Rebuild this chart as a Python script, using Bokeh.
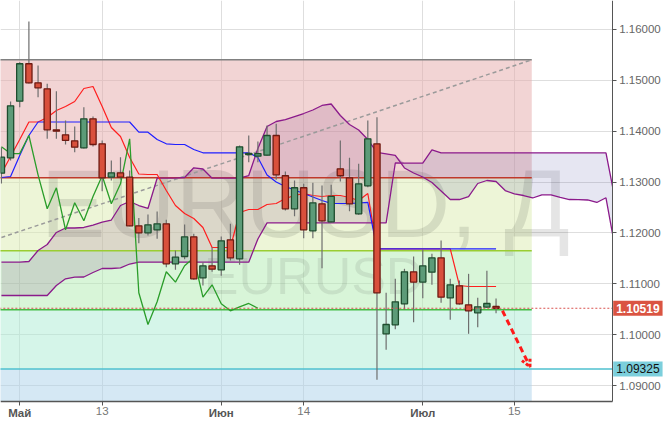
import numpy as np
from bokeh.plotting import figure
from bokeh.models import Range1d, FixedTicker, PrintfTickFormatter, Label, Arrow, OpenHead
from bokeh.core.properties import value
from bokeh.embed import file_html
from bokeh.resources import INLINE

# ---------------- data ----------------
dates = ["2016-04-28", "2016-04-29",
         "2016-05-02", "2016-05-03", "2016-05-04", "2016-05-05", "2016-05-06",
         "2016-05-09", "2016-05-10", "2016-05-11", "2016-05-12", "2016-05-13",
         "2016-05-16", "2016-05-17", "2016-05-18", "2016-05-19", "2016-05-20",
         "2016-05-23", "2016-05-24", "2016-05-25", "2016-05-26", "2016-05-27",
         "2016-05-30", "2016-05-31", "2016-06-01", "2016-06-02", "2016-06-03",
         "2016-06-06", "2016-06-07", "2016-06-08", "2016-06-09", "2016-06-10",
         "2016-06-13", "2016-06-14", "2016-06-15", "2016-06-16", "2016-06-17",
         "2016-06-20", "2016-06-21", "2016-06-22", "2016-06-23", "2016-06-24",
         "2016-06-27", "2016-06-28", "2016-06-29", "2016-06-30", "2016-07-01",
         "2016-07-04", "2016-07-05", "2016-07-06", "2016-07-07", "2016-07-08",
         "2016-07-11", "2016-07-12", "2016-07-13"]
future_dates = ["2016-07-14", "2016-07-15"]

opens = [1.13175, 1.13477, 1.14590, 1.15326, 1.14952, 1.14834, 1.14028, 1.13930, 1.13812, 1.13674,
         1.14244, 1.13752, 1.13096, 1.13182, 1.13096, 1.12140, 1.12003, 1.12062, 1.12180, 1.11393,
         1.11537, 1.11924, 1.11118, 1.11354, 1.11275, 1.11865, 1.11491, 1.13542, 1.13510, 1.13529,
         1.13916, 1.13124, 1.12475, 1.12888, 1.12042, 1.12573, 1.12219, 1.13261, 1.13084, 1.12376,
         1.12927, 1.13753, 1.10017, 1.10194, 1.10607, 1.11236, 1.11033, 1.11228, 1.11511, 1.10725,
         1.10961, 1.10587, 1.10430, 1.10540, 1.10554]
highs = [1.13686, 1.14584, 1.15357, 1.16157, 1.15292, 1.14932, 1.14787, 1.14211, 1.14093, 1.14472,
         1.14290, 1.13818, 1.13424, 1.13489, 1.13228, 1.12293, 1.12363, 1.12422, 1.12258, 1.11655,
         1.12166, 1.11983, 1.11425, 1.11720, 1.11930, 1.12180, 1.13719, 1.13916, 1.13798, 1.14112,
         1.14146, 1.13208, 1.13031, 1.12966, 1.12986, 1.12933, 1.12946, 1.13818, 1.13477, 1.13360,
         1.14211, 1.14276, 1.10823, 1.11098, 1.11295, 1.11537, 1.11675, 1.11590, 1.11852, 1.11098,
         1.11065, 1.11196, 1.10725, 1.11255, 1.10711]
lows = [1.12972, 1.13424, 1.14472, 1.14940, 1.14669, 1.13851, 1.13851, 1.13740, 1.13587, 1.13660,
        1.13700, 1.12821, 1.13031, 1.13050, 1.12130, 1.11799, 1.11950, 1.11884, 1.11327, 1.11275,
        1.11484, 1.11080, 1.10967, 1.11239, 1.11157, 1.11458, 1.11373, 1.13391, 1.13391, 1.13520,
        1.13045, 1.12441, 1.12329, 1.11897, 1.11897, 1.11307, 1.12200, 1.13011, 1.12427, 1.12360,
        1.12900, 1.09112, 1.09702, 1.10107, 1.10489, 1.10245, 1.10717, 1.10980, 1.10626, 1.10292,
        1.10590, 1.10017, 1.10147, 1.10530, 1.10422]
closes = [1.13489, 1.14500, 1.15326, 1.14952, 1.14854, 1.14028, 1.14000, 1.13818, 1.13686, 1.14244,
          1.13739, 1.13084, 1.13182, 1.13096, 1.12140, 1.12003, 1.12160, 1.12180, 1.11393, 1.11523,
          1.11924, 1.11098, 1.11354, 1.11288, 1.11845, 1.11511, 1.13694, 1.13562, 1.13560, 1.13916,
          1.13143, 1.12475, 1.12888, 1.12062, 1.12593, 1.12239, 1.12717, 1.13124, 1.12573, 1.12966,
          1.13851, 1.10823, 1.10200, 1.10646, 1.11236, 1.11033, 1.11354, 1.11511, 1.10737, 1.10980,
          1.10607, 1.10469, 1.10548, 1.10613, 1.10519]

tenkan = [1.13169, 1.13503, 1.13837, 1.14181, 1.14181, 1.14270, 1.14407, 1.14486, 1.14584, 1.14840,
          1.14879, 1.14486, 1.14073, 1.13896, 1.13483, 1.13159, 1.13149, 1.13149, 1.12834, 1.12539,
          1.12382, 1.12284, 1.12107, 1.11714, 1.11714, 1.11714, 1.12402, 1.12461, 1.12461, 1.12559,
          1.12579, 1.12677, 1.12736, 1.12775, 1.12736, 1.12716, 1.12736, 1.12736, 1.12697, 1.12638,
          1.12775, 1.11688, 1.11688, 1.11688, 1.11688, 1.11688, 1.11688, 1.11688, 1.11688, 1.11688,
          1.10967, 1.10947, 1.10947, 1.10947, 1.10947]
kijun = [1.13090, 1.13110, 1.13523, 1.13916, 1.14181, 1.14181, 1.14181, 1.14181, 1.14181, 1.14181,
         1.14181, 1.14181, 1.14181, 1.14181, 1.14181, 1.13981, 1.13981, 1.13837, 1.13753, 1.13739,
         1.13739, 1.13641, 1.13576, 1.13576, 1.13576, 1.13576, 1.13576, 1.13576, 1.13483, 1.13139,
         1.13002, 1.12913, 1.12844, 1.12775, 1.12707, 1.12638, 1.12579, 1.12579, 1.12579, 1.12589,
         1.12599, 1.11688, 1.11688, 1.11688, 1.11688, 1.11688, 1.11688, 1.11688, 1.11688, 1.11688,
         1.11688, 1.11688, 1.11688, 1.11688, 1.11688]
span_a = [1.11425, 1.11425, 1.11425, 1.11438, 1.11655, 1.11773, 1.12009, 1.12097, 1.12097, 1.12107,
          1.12156, 1.12211, 1.12254, 1.12539, 1.12618, 1.12539, 1.12481, 1.13076, 1.13076, 1.13076,
          1.13090, 1.13281, 1.13257, 1.13076, 1.13076, 1.13076, 1.13076, 1.13129, 1.13660, 1.14093,
          1.14191, 1.14230, 1.14289, 1.14348, 1.14417, 1.14506, 1.14535, 1.14309, 1.14132, 1.14024,
          1.13837, 1.13582, 1.13556, 1.13523, 1.13277, 1.13179, 1.13100, 1.12992, 1.12825, 1.12657,
          1.12657, 1.12716, 1.12972, 1.13031, 1.13011, 1.12834, 1.12766, 1.12736, 1.12687, 1.12750,
          1.12750, 1.12697, 1.12657, 1.12654, 1.12648, 1.12599, 1.12691, 1.11700]
span_b = [1.10770, 1.10770, 1.10770, 1.10770, 1.10770, 1.10770, 1.10967, 1.11098, 1.11130, 1.11134,
          1.11222, 1.11301, 1.11301, 1.11315, 1.11389, 1.11425, 1.11425, 1.11425, 1.11425, 1.11425,
          1.11425, 1.11425, 1.11425, 1.11425, 1.11425, 1.11425, 1.11425, 1.11425, 1.11881, 1.12199,
          1.12199, 1.12199, 1.12199, 1.12199, 1.12199, 1.12199, 1.12199, 1.12199, 1.12199, 1.12199,
          1.12199, 1.12199, 1.12199, 1.13375, 1.13371, 1.13371, 1.13371, 1.13635, 1.13576, 1.13576,
          1.13576, 1.13576, 1.13576, 1.13576, 1.13576, 1.13576, 1.13576, 1.13576, 1.13576, 1.13576,
          1.13576, 1.13576, 1.13576, 1.13576, 1.13576, 1.13576, 1.13576, 1.12657]
lag_periods = 26

fib_levels = [1.15404, 1.13084, 1.11649, 1.10490, 1.09325]
last_price = 1.10519
support_price = 1.09325
trend_prices = [1.11910, 1.15404]
forecast_prices = [1.1047, 1.0937]

price_ticks = [1.09, 1.10, 1.11, 1.12, 1.13, 1.14, 1.15, 1.16]
month_ticks = {"2016-05-02": "Май", "2016-06-01": "Июн", "2016-07-01": "Июл"}
day_ticks = {"2016-05-13": "13", "2016-06-14": "14", "2016-07-15": "15"}
symbol = "EURUSD"
period = "Д"

# ---------------- layout / styling ----------------
FONT = "Liberation Sans"
W, H = 664, 422
all_dates = dates + future_dates
x = np.arange(len(dates))
xc = np.arange(len(span_a))
fib_end = 57.9                 # where the fibonacci zones stop (index units)
X0, X1 = -0.1, 72.39           # whole canvas
Y0, Y1 = 1.08273, 1.16570
X_AXIS = 66.68                 # price axis position
Y_AXIS = 1.08686               # time axis position

p = figure(width=W, height=H, x_range=Range1d(X0, X1), y_range=Range1d(Y0, Y1),
           output_backend="svg", toolbar_location=None, y_axis_location="right",
           min_border_left=0, min_border_top=0, min_border_bottom=0, min_border_right=0)
p.outline_line_color = None
p.background_fill_color = "white"
p.border_fill_color = "white"

p.xgrid.grid_line_color = "#dedede"
p.ygrid.grid_line_color = "#dedede"

# fibonacci zones
band_colors = ["#e5a9a9", "#dcecb0", "#b2ebb2", "#abebd3", "#abd1e9"]
bottoms = fib_levels[1:] + [Y_AXIS]
p.quad(left=X0 - 1, right=fib_end, top=fib_levels, bottom=bottoms, fill_color=band_colors,
       fill_alpha=0.5, line_color=None)

# watermark
p.text(x=[4.3], y=[1.12579], text=[f"{symbol}, {period}"], text_font=value(FONT),
       text_font_size=value("97px"), text_color="black", text_alpha=0.1,
       text_baseline="alphabetic", text_align="left")
p.text(x=[22.1], y=[1.11163], text=[symbol], text_font=value(FONT),
       text_font_size=value("52px"), text_color="black", text_alpha=0.08,
       text_baseline="alphabetic", text_align="left")

# ichimoku cloud
A = np.array(span_a)
B = np.array(span_b)
top = np.maximum(A, B)
p.varea(x=xc, y1=B, y2=top, fill_color="#7a2f78", fill_alpha=0.15)
p.varea(x=xc, y1=A, y2=top, fill_color="#2f2f93", fill_alpha=0.12)

# fibonacci lines
line_colors = ["#808080", "#c0392b", "#9acd32", "#44bb44"]
p.segment(x0=X0 - 1, x1=fib_end, y0=fib_levels[:4], y1=fib_levels[:4], line_color=line_colors,
          line_width=1.5)
p.segment(x0=[X0 - 1], x1=[X_AXIS], y0=[support_price], y1=[support_price],
          line_color="#4fc1cf", line_width=1.5)

# trend line
p.line(x=[0, fib_end], y=trend_prices, line_color="#9a9a9a", line_dash="4 3", line_width=1.5)

# ichimoku lines
p.line(xc, A, line_color="#8b1a8b", line_width=1.3)
p.line(xc, B, line_color="#8b1a8b", line_width=1.3)
p.line(x, tenkan, line_color="#ff1f1f", line_width=1.2)
p.line(x, kijun, line_color="#1f1fff", line_width=1.2)
p.line(x[:len(closes) - lag_periods], closes[lag_periods:], line_color="#2a9d2a", line_width=1.3)

# candles
O = np.array(opens); C = np.array(closes); Hh = np.array(highs); Ll = np.array(lows)
p.segment(x0=x, x1=x, y0=Hh, y1=Ll, line_color="#6e6e6e", line_width=1.2)
inc = C >= O
dec = ~inc
p.vbar(x=x[inc], width=0.68, top=C[inc], bottom=O[inc], fill_color="#5c9b78",
       line_color="#1e4d2e", line_width=1.3)
p.vbar(x=x[dec], width=0.68, top=O[dec], bottom=C[dec], fill_color="#d9503c",
       line_color="#6e1a12", line_width=1.3)

# last price line
p.segment(x0=[X0 - 1], x1=[X_AXIS], y0=[last_price], y1=[last_price],
          line_color="#d9534f", line_dash="2 2", line_width=1)

# blank the axis margins (right and bottom)
p.quad(left=[X_AXIS, X0 - 1], right=[X1 + 1, X1 + 1], bottom=[Y0 - 0.01, Y0 - 0.01],
       top=[Y1 + 0.01, Y_AXIS], fill_color="white", line_color=None)

# forecast arrow
p.add_layout(Arrow(x_start=len(dates) - 0.3, y_start=forecast_prices[0],
                   x_end=len(dates) + 2.7, y_end=forecast_prices[1],
                   line_color="#ff1a1a", line_width=3, line_dash="6 4",
                   end=OpenHead(size=9, line_color="#ff1a1a", line_width=3, line_dash="3 2")))

# axes
yax = p.yaxis[0]
yax.fixed_location = X_AXIS
yax.bounds = (Y_AXIS, Y1)
yax.ticker = FixedTicker(ticks=price_ticks)
yax.formatter = PrintfTickFormatter(format="%.5f")
yax.axis_line_color = "#555555"
yax.major_tick_line_color = "#555555"
yax.major_tick_out = 4
yax.major_tick_in = 0
yax.minor_tick_out = 0
yax.minor_tick_in = 0
yax.major_label_standoff = 3
yax.major_label_text_color = "#666666"
yax.major_label_text_font = FONT
yax.major_label_text_font_size = "11.5px"

xax = p.xaxis[0]
xax.fixed_location = Y_AXIS
xax.bounds = (X0, X_AXIS)
tick_pos = {d: all_dates.index(d) for d in list(month_ticks) + list(day_ticks)}
xax.ticker = FixedTicker(ticks=sorted(tick_pos.values()))
xax.major_label_overrides = {**{tick_pos[d]: "" for d in month_ticks},
                             **{tick_pos[d]: t for d, t in day_ticks.items()}}
xax.axis_line_color = "#555555"
xax.axis_line_width = 1.5
xax.major_tick_line_color = "#555555"
xax.major_tick_out = 4
xax.major_tick_in = 0
xax.minor_tick_out = 0
xax.minor_tick_in = 0
xax.major_label_standoff = 2
xax.major_label_text_color = "#777777"
xax.major_label_text_font = FONT
xax.major_label_text_font_size = "11.5px"

for d, t in month_ticks.items():
    p.add_layout(Label(x=tick_pos[d], y=Y_AXIS, y_offset=-12, text=t, text_align="center",
                       text_baseline="middle", text_font=FONT, text_font_size="11.5px",
                       text_font_style="bold", text_color="#555555"))

# price labels on the axis
p.add_layout(Label(x=X_AXIS, y=last_price, x_offset=1, text=f"{last_price:.5f}", text_align="left",
                   text_baseline="middle", text_font=FONT, text_font_size="12px",
                   text_font_style="bold", text_color="white", background_fill_color="#da5442",
                   padding=3))
p.add_layout(Label(x=X_AXIS, y=support_price, x_offset=1, text=f"{support_price:.5f}",
                   text_align="left", text_baseline="middle", text_font=FONT,
                   text_font_size="12px", text_color="#111111",
                   background_fill_color="#7ccfdc", padding=3))

open("out.html", "w").write(file_html(p, INLINE))
